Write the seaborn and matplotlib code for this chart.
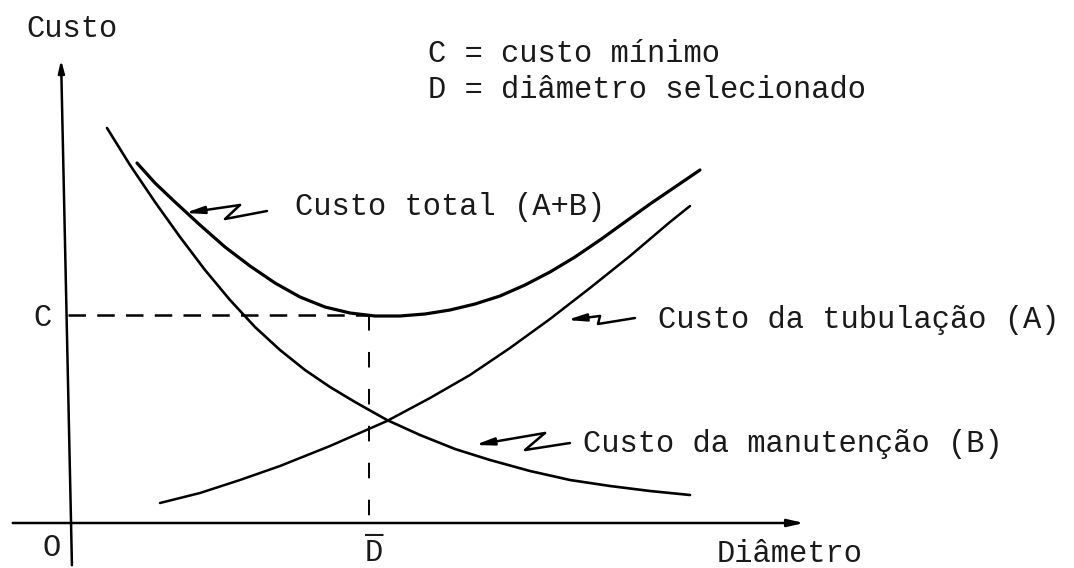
import numpy as np
import pandas as pd
import seaborn as sns
import matplotlib.pyplot as plt

# Curve points (diameter, cost) in arbitrary units
diam_total = [65, 83, 103, 128, 153, 178, 203, 228, 253, 278, 303, 328,
              353, 378, 403, 428, 453, 478, 503, 528, 553, 578, 603, 628]
cost_total = [360, 340, 321, 298, 276, 257, 240, 226, 216, 210, 207, 207,
              209, 213, 219, 227, 238, 251, 266, 283, 301, 319, 336, 353]

diam_tub = [88, 128, 168, 208, 258, 315, 358, 398, 438, 478, 518, 558, 598, 618]
cost_tub = [20, 30, 43, 57, 77, 102, 125, 148, 175, 204, 235, 267, 301, 317]

diam_man = [35, 58, 83, 108, 133, 158, 183, 208, 233, 258, 283, 315, 348, 383,
            418, 458, 498, 538, 578, 618]
cost_man = [395, 358, 321, 286, 253, 223, 196, 173, 153, 136, 121, 103, 88, 74,
            63, 52, 43, 37, 32, 28]

c_min = 208    # C = custo minimo
d_sel = 297    # D = diametro selecionado

labels = {
    'total': 'Custo total (A+B)',
    'tub': 'Custo da tubulação (A)',
    'man': 'Custo da manutenção (B)',
}

df = pd.concat([
    pd.DataFrame({'d': diam_total, 'c': cost_total, 'curve': 'total'}),
    pd.DataFrame({'d': diam_tub, 'c': cost_tub, 'curve': 'tub'}),
    pd.DataFrame({'d': diam_man, 'c': cost_man, 'curve': 'man'}),
])

sns.set_theme(style='white')
plt.rcParams['font.family'] = ['Liberation Mono', 'DejaVu Sans Mono']

fig = plt.figure(figsize=(10.74, 5.68), dpi=100)
ax = fig.add_axes([0, 0, 1, 1])

# curves
for name, lw in [('total', 2.3), ('tub', 1.8), ('man', 1.9)]:
    sns.lineplot(data=df[df.curve == name], x='d', y='c', sort=False,
                 estimator=None, color='black', lw=lw, ax=ax,
                 solid_joinstyle='round', solid_capstyle='round')

# axes drawn as arrows
ax.annotate('', xy=(-11, 466), xytext=(0, -45),
            arrowprops=dict(arrowstyle='-|>,head_length=0.6,head_width=0.15',
                            color='black', lw=1.8))
ax.annotate('', xy=(735, 0), xytext=(-62, 0),
            arrowprops=dict(arrowstyle='-|>,head_length=0.8,head_width=0.18',
                            color='black', lw=1.8))

# dashed guides for C and D
ax.plot([-4, d_sel], [c_min, c_min], color='black', lw=1.8, ls=(0, (7, 4.5)))
ax.plot([d_sel, d_sel], [c_min, 0], color='black', lw=1.4, ls=(0, (8, 11)))


# hand-drawn style squiggle arrows pointing at the curves
def squiggle(pts, lw=1.8):
    xs, ys = zip(*pts)
    ax.plot(xs[1:], ys[1:], color='black', lw=lw, solid_capstyle='round')
    ax.annotate('', xy=pts[0], xytext=pts[1],
                arrowprops=dict(arrowstyle='-|>,head_length=0.9,head_width=0.18',
                                color='black', lw=lw, shrinkA=0, shrinkB=0))


squiggle([(113, 310), (168, 318), (153, 304), (195, 312)])
squiggle([(495, 203), (528, 207), (526, 199), (563, 205)])
squiggle([(403, 78), (473, 90), (453, 73), (498, 80)])

fs = 22
txt = dict(color='#1a1a1a', fontsize=fs, va='baseline', ha='left')
ax.text(-46, 486, 'Custo', **txt)
ax.text(356, 461, 'C = custo mínimo', **txt)
ax.text(356, 425, 'D = diâmetro selecionado', **txt)
ax.text(223, 308, labels['total'], **txt)
ax.text(586, 195, labels['tub'], **txt)
ax.text(511, 71, labels['man'], **txt)
ax.text(-39, 197, 'C', **txt)
ax.text(-29, -33, 'O', **txt)
ax.text(293, -38, 'D', **txt)
ax.text(293, -36, '\u00af', **txt)
ax.text(645, -39, 'Diâmetro', **txt)

ax.set_xlim(-72, 1002)
ax.set_ylim(-45, 523)
ax.set_axis_off()

fig.savefig('out.png', dpi=100, facecolor='white')
